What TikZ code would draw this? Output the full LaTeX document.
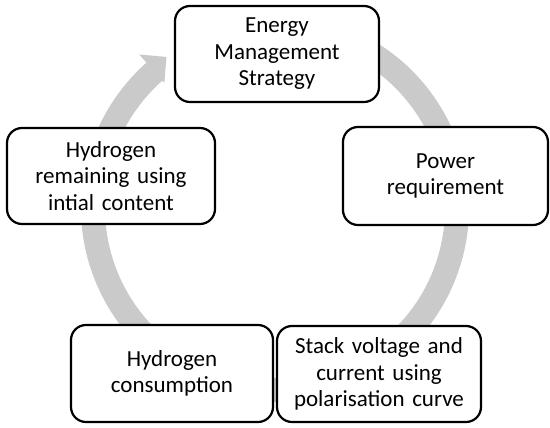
\documentclass[tikz,border=0pt]{standalone}
\usepackage{fontspec}
\setmainfont{Carlito}
\definecolor{arrowgray}{RGB}{202,202,202}
\tikzset{
  stagebox/.style={draw=black, line width=2.2pt, rounded corners=15pt, fill=white,
    minimum width=204pt, minimum height=96pt, text width=200pt, align=center,
    inner sep=0pt, font=\fontsize{23}{26.5}\selectfont}
}
\begin{document}
\begin{tikzpicture}[x=1pt,y=1pt]
\useasboundingbox (0,0) rectangle (550,428);
\begin{scope}[shift={(275,220)}]
\fill[arrowgray] (70:194) arc[start angle=70, end angle=-228.5, radius=194]
  -- (-228.5:205) -- (-234.3:186) -- (-228.5:167) -- (-228.5:170)
  arc[start angle=-228.5, end angle=70, radius=170] -- cycle;
\end{scope}
\node[stagebox] (ems) at (277,374) {Energy\\Management\\Strategy};
\node[stagebox, minimum width=205pt, minimum height=98pt] (power) at (445.5,252) {Power\\requirement};
\node[stagebox] (stack) at (379,54) {Stack voltage and\\current using\\polarisation curve};
\node[stagebox, minimum width=202pt, minimum height=97pt] (cons) at (172,54.5) {Hydrogen\\consumption};
\node[stagebox, minimum width=208pt] (remain) at (111,252) {Hydrogen\\remaining using\\intial content};
\end{tikzpicture}
\end{document}
